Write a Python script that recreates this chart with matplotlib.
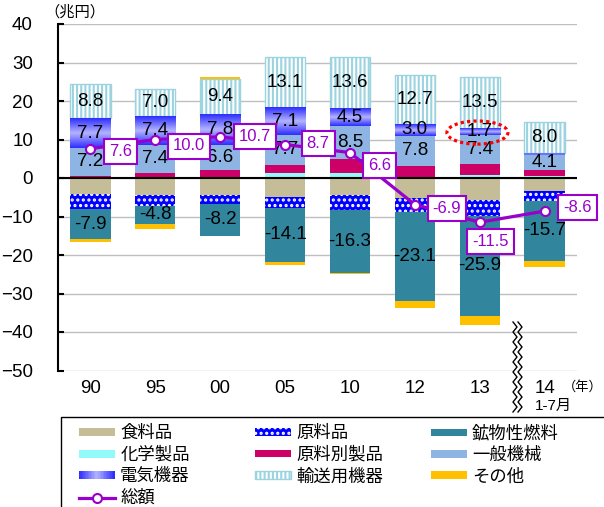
import matplotlib
matplotlib.use('Agg')
import matplotlib.pyplot as plt
import numpy as np
from matplotlib.patches import Rectangle, Ellipse
from matplotlib.lines import Line2D
from matplotlib.colors import LinearSegmentedColormap
from matplotlib.legend_handler import HandlerBase

plt.rcParams['font.family'] = ['Liberation Sans', 'Noto Sans CJK JP']
plt.rcParams['hatch.linewidth'] = 1.5

# 品目別貿易収支（兆円）
years = ['90', '95', '00', '05', '10', '12', '13', '14']
food = [-4.1, -4.4, -4.5, -4.9, -4.4, -5.3, -5.7, -3.4]
raw = [-3.9, -2.8, -2.3, -2.8, -3.9, -3.6, -4.2, -2.5]
fuel = [-7.9, -4.8, -8.2, -14.1, -16.3, -23.1, -25.9, -15.7]
chem = [0.2, 0.1, 0.3, 1.4, 1.4, 0.3, 0.9, 0.4]
mfg = [0.4, 1.2, 1.7, 2.1, 3.5, 2.9, 2.8, 1.6]
machinery = [7.2, 7.4, 6.6, 7.7, 8.5, 7.8, 7.4, 4.1]
electric = [7.7, 7.4, 7.8, 7.1, 4.5, 3.0, 1.7, 0.4]
transport = [8.8, 7.0, 9.4, 13.1, 13.6, 12.7, 13.5, 8.0]
other = [-0.7, -1.2, 0.4, -0.9, -0.4, -1.7, -2.3, -1.6]
total = [7.6, 10.0, 10.7, 8.7, 6.6, -6.9, -11.5, -8.6]

purple = '#9900CC'
elec_cmap = LinearSegmentedColormap.from_list('elec', ['#2E2EFF', '#B4B4FF', '#2E2EFF'])

W, H = 604, 507
fig = plt.figure(figsize=(W / 100, H / 100), dpi=100)
ax = fig.add_axes([58 / W, 1 - 370.5 / H, (577 - 58) / W, (370.5 - 24) / H])

x = np.arange(len(years))
bw = 0.62
n = len(years)

# マイナス側（下へ積む）
neg_bottom = np.zeros(n)
b_food = ax.bar(x, food, bw, bottom=neg_bottom, color='#C4BD97', lw=0, zorder=2)
neg_bottom += food
b_raw = ax.bar(x, raw, bw, bottom=neg_bottom, color='#0000FF', edgecolor='white',
               hatch='...', lw=0, zorder=2)
neg_bottom += raw
b_fuel = ax.bar(x, fuel, bw, bottom=neg_bottom, color='#31859C', lw=0, zorder=2)
fuel_mid = neg_bottom + np.array(fuel) / 2
neg_bottom += fuel

# プラス側（上へ積む）
pos_bottom = np.zeros(n)
b_chem = ax.bar(x, chem, bw, bottom=pos_bottom, color='#93FAFA', lw=0, zorder=2)
pos_bottom += chem
b_mfg = ax.bar(x, mfg, bw, bottom=pos_bottom, color='#CC0066', lw=0, zorder=2)
pos_bottom += mfg
b_mach = ax.bar(x, machinery, bw, bottom=pos_bottom, color='#8DB4E2', lw=0, zorder=2)
mach_mid = pos_bottom + np.array(machinery) / 2
pos_bottom += machinery
b_elec = ax.bar(x, electric, bw, bottom=pos_bottom, color='#7070FF', lw=0, zorder=2)
grad = np.linspace(0, 1, 64).reshape(-1, 1)
for xi, b0, v in zip(x, pos_bottom, electric):
    ax.imshow(grad, cmap=elec_cmap, aspect='auto', zorder=2.1,
              extent=[xi - bw / 2, xi + bw / 2, b0, b0 + v])
elec_mid = pos_bottom + np.array(electric) / 2
pos_bottom += electric
b_trans = ax.bar(x, transport, bw, bottom=pos_bottom, color='white', edgecolor='#9CD3E0',
                 hatch='||||', lw=1, zorder=2)
trans_mid = pos_bottom + np.array(transport) / 2
pos_bottom += transport

other_arr = np.array(other)
b_other = ax.bar(x, other, bw, bottom=np.where(other_arr < 0, neg_bottom, pos_bottom),
                 color='#FFC000', lw=0, zorder=2)

# 数値ラベル
for vals, mids in [(fuel, fuel_mid), (machinery, mach_mid), (electric, elec_mid),
                   (transport, trans_mid)]:
    for xi, v, m in zip(x, vals, mids):
        if abs(v) >= 1:
            ax.text(xi, m, f'{v:.1f}', ha='center', va='center', fontsize=13.5,
                    color='black', zorder=3)

ax.axhline(0, color='black', lw=1.5, zorder=3)

# 総額
ax.plot(x, total, color=purple, lw=2.3, marker='o', ms=6.5, mfc='white',
        mec=purple, mew=1.5, zorder=4)
offsets = [(30, -3), (34, -6.5), (35, 0), (33, 1.5), (30, -13), (32, -3.5), (11, -19.5), (33, 4)]
for xi, v, off in zip(x, total, offsets):
    ax.annotate(f'{v:.1f}', (xi, v), xytext=off, textcoords='offset pixels',
                ha='center', va='center', fontsize=12, color=purple, zorder=5,
                bbox=dict(boxstyle='square,pad=0.3', fc='white', ec=purple, lw=1.5))

ax.add_patch(Ellipse((6 - 0.035, 11.8), 0.94, 6.0, fill=False, ec='red', lw=2.3,
                     ls=(0, (1, 1)), zorder=6))

ax.set_xlim(-0.5, n - 0.5)
ax.set_ylim(-50, 40)
ax.set_yticks(range(-50, 41, 10))
ax.set_xticks(x)
ax.set_xticklabels(years)
ax.tick_params(axis='y', direction='in', length=4, width=1.5, pad=18, labelsize=13.5)
ax.tick_params(axis='x', length=0, pad=7, labelsize=13.5)
ax.yaxis.grid(True, color='#BFBFBF', lw=1)
ax.set_axisbelow(True)
for s in ['top', 'right', 'bottom']:
    ax.spines[s].set_visible(False)
ax.spines['left'].set_linewidth(1.5)

fig.text(44 / W, 1 - 12 / H, '（兆円）', ha='left', va='center', fontsize=11)
fig.text(603 / W, 1 - 387 / H, '（年）', ha='right', va='center', fontsize=9.5)
fig.text(535 / W, 1 - 406 / H, '1-7月', ha='left', va='center', fontsize=11)

# 波線（期間の区切り）
zy = np.linspace(322, 412, 19)
for x0 in (513, 518):
    zx = x0 + 4 * (np.arange(len(zy)) % 2)
    fig.add_artist(Line2D(zx / W, 1 - zy / H, color='black', lw=1))


class GradientHandler(HandlerBase):
    def create_artists(self, legend, orig_handle, xdescent, ydescent, width, height,
                       fontsize, trans):
        k = 24
        arts = []
        for i in range(k):
            r = Rectangle((-xdescent + i * width / k, -ydescent), width / k + 0.1, height,
                          fc=elec_cmap(i / (k - 1)), lw=0, transform=trans)
            arts.append(r)
        return arts


line_handle = Line2D([], [], color=purple, lw=2.3, marker='o', ms=6.5, mfc='white',
                     mec=purple, mew=1.5)
columns = [
    (79, [(b_food, '食料品'), (b_chem, '化学製品'), (b_elec, '電気機器'), (line_handle, '総額')]),
    (255, [(b_raw, '原料品'), (b_mfg, '原料別製品'), (b_trans, '輸送用機器')]),
    (431, [(b_fuel, '鉱物性燃料'), (b_mach, '一般機械'), (b_other, 'その他')]),
]
for cx, items in columns:
    fig.legend([h for h, _ in items], [t for _, t in items], loc='upper left',
               bbox_to_anchor=(cx / W, 1 - 425 / H), frameon=False, fontsize=12.5,
               borderpad=0, borderaxespad=0, handlelength=2.07, handleheight=0.3,
               handletextpad=0.3, labelspacing=0.3,
               handler_map={b_elec: GradientHandler()})

fig.add_artist(Rectangle((61 / W, -0.05), 1.0, 1 - 417 / H + 0.05, transform=fig.transFigure,
                         fill=False, ec='black', lw=1))

fig.savefig('out.png', dpi=100)
